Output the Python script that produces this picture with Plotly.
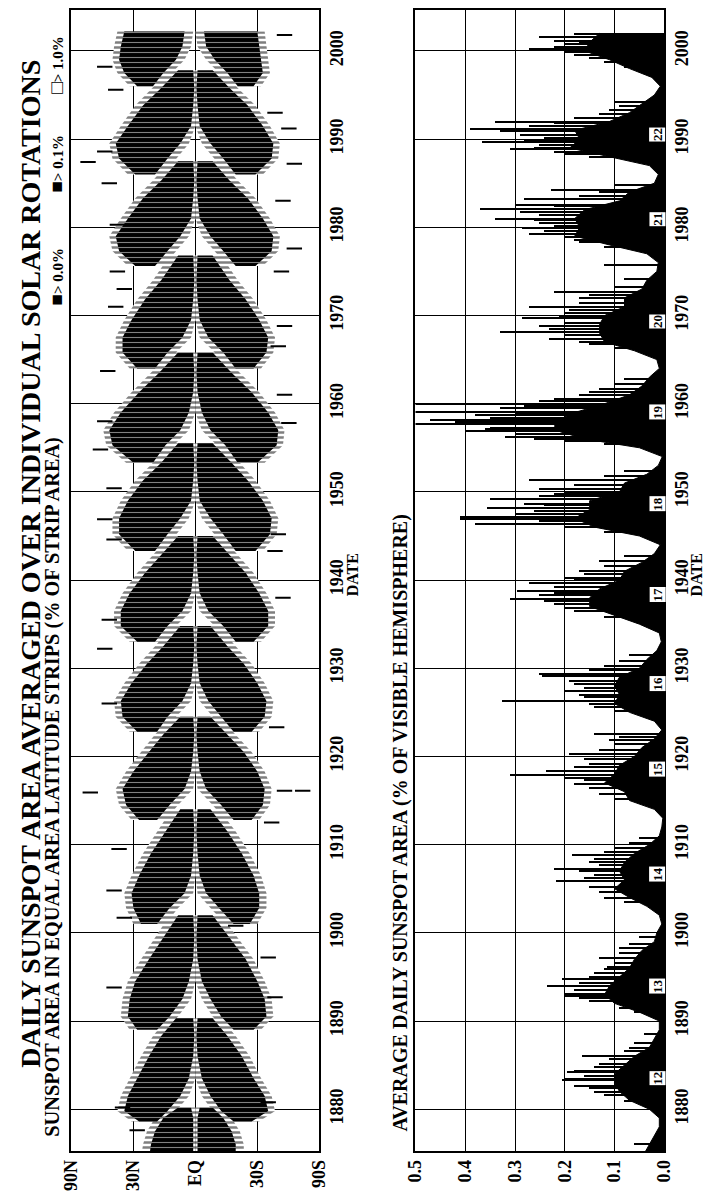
import numpy as np
import plotly.graph_objects as go

# page is rendered with an 8px body margin; figure coordinates = page px - 8
OFF = 8
W, H = 719 - OFF, 1195 - OFF

# ---------------- butterfly wings (latitude envelopes in degrees) ----------------
wing_cycle = ([11] * 5 + [12] * 7 + [13] * 7 + [14] * 7 + [15] * 7 + [16] * 7 + [17] * 7
              + [18] * 7 + [19] * 7 + [20] * 7 + [21] * 7 + [22] * 7 + [23] * 5)
wing_year = [
    1874.4, 1876.0, 1877.5, 1879.0, 1880.2,
    1878.6, 1879.8, 1881.5, 1883.5, 1886.0, 1888.3, 1890.3,
    1889.0, 1890.5, 1892.5, 1894.5, 1897.0, 1899.5, 1902.0,
    1901.0, 1902.8, 1904.5, 1906.5, 1909.0, 1911.5, 1914.0,
    1912.8, 1914.5, 1916.3, 1918.3, 1920.5, 1922.5, 1924.5,
    1922.8, 1924.5, 1926.3, 1928.3, 1930.5, 1932.5, 1934.8,
    1933.0, 1934.8, 1936.5, 1938.5, 1940.8, 1942.8, 1945.0,
    1943.3, 1945.2, 1947.0, 1949.0, 1951.3, 1953.3, 1955.5,
    1953.3, 1955.3, 1957.0, 1959.0, 1961.3, 1963.5, 1965.8,
    1964.0, 1965.8, 1967.5, 1969.5, 1971.8, 1974.0, 1976.8,
    1975.6, 1977.3, 1979.0, 1981.0, 1983.3, 1985.3, 1987.5,
    1986.0, 1987.8, 1989.5, 1991.5, 1993.8, 1995.8, 1997.8,
    1996.0, 1997.5, 1999.0, 2000.5, 2002.2,
]
north_outer = [
    22, 21, 19, 15, 8,
    27, 35, 33, 28, 22, 16, 9,
    28, 33, 32, 29, 22, 15, 8,
    26, 30, 31, 27, 21, 14, 7,
    27, 34, 36, 30, 22, 15, 7,
    28, 36, 37, 31, 23, 15, 7,
    28, 37, 37, 32, 24, 16, 8,
    29, 38, 38, 33, 25, 16, 8,
    30, 42, 44, 37, 27, 17, 8,
    28, 36, 36, 31, 24, 16, 8,
    29, 38, 40, 33, 25, 16, 8,
    29, 38, 40, 33, 25, 16, 8,
    28, 35, 38, 37, 35,
]
north_inner = [
    1, 1, 1, 1, 2,
    18, 13, 7, 3, 1, 0.5, 1,
    18, 12, 6, 3, 1, 0.5, 1,
    18, 12, 5, 2, 1, 0.5, 1,
    18, 12, 5, 2, 1, 0.5, 1,
    18, 13, 6, 2, 1, 0.5, 1,
    19, 13, 6, 2, 1, 0.5, 1,
    19, 13, 7, 2, 1, 0.5, 1,
    20, 14, 7, 3, 1, 0.5, 1,
    19, 13, 6, 2, 1, 0.5, 1,
    19, 13, 7, 2, 1, 0.5, 1,
    19, 13, 7, 2, 1, 0.5, 1,
    20, 15, 9, 6, 5,
]
south_outer = [
    19, 19, 17, 13, 8,
    27, 36, 34, 28, 22, 15, 8,
    28, 35, 34, 30, 24, 16, 8,
    26, 31, 31, 28, 22, 15, 7,
    27, 33, 34, 30, 23, 15, 7,
    27, 34, 35, 30, 23, 15, 7,
    28, 36, 36, 31, 24, 16, 8,
    29, 37, 38, 33, 25, 17, 8,
    30, 41, 42, 36, 27, 17, 8,
    28, 35, 36, 31, 24, 16, 8,
    29, 38, 39, 33, 25, 16, 8,
    29, 38, 39, 33, 25, 16, 8,
    28, 33, 32, 31, 30,
]
south_inner = [
    1, 1, 1, 1, 2,
    18, 12, 7, 3, 1, 0.5, 1,
    18, 12, 7, 3, 1, 0.5, 1,
    18, 11, 5, 2, 1, 0.5, 1,
    18, 12, 5, 2, 1, 0.5, 1,
    18, 12, 6, 2, 1, 0.5, 1,
    19, 13, 6, 2, 1, 0.5, 1,
    19, 13, 7, 2, 1, 0.5, 1,
    20, 14, 7, 3, 1, 0.5, 1,
    19, 13, 6, 2, 1, 0.5, 1,
    19, 13, 7, 2, 1, 0.5, 1,
    19, 13, 7, 2, 1, 0.5, 1,
    20, 15, 9, 5, 4,
]
# isolated sunspot marks outside the main wings (year, latitude; + north, - south)
stray_year = [2001.8, 1998.2, 1987.4, 1988.6, 1991.2, 1987.2, 1995.6, 1980.3, 1977.6, 1975.0,
              1973.0, 1975.0, 1968.8, 1963.7, 1957.8, 1958.0, 1950.4, 1945.2, 1946.9, 1943.3,
              1944.6, 1932.2, 1923.3, 1916.1, 1916.1, 1915.9, 1904.8, 1901.7, 1900.8, 1892.7,
              1893.8, 1897.2, 1877.6, 1880.2, 1880.8, 1985.0, 1966.5, 1954.8, 1935.5, 1912.5,
              1909.5, 1926.0, 1938.0, 1961.0, 1971.0, 1983.0, 1993.0]
stray_lat = [-46, 47, 60, 47, -49, -53, 40, 39, -53, -44,
             35, 39, -46, 45, -49, 47, 41, -42, 47, -40,
             41, 47, -41, -60, -46, 58, 41, 35, -19, -40,
             41, -36, 28, 36, -36, 44, -42, 50, 44, -38,
             38, 44, -45, -46, 40, -45, -40]

# ---------------- average daily sunspot area (% of visible hemisphere) ----------------
base_year = list(range(1875, 2003))
base_val = [
    0.04, 0.03, 0.02, 0.01, 0.01, 0.03, 0.07, 0.09, 0.10, 0.10,
    0.08, 0.06, 0.03, 0.02, 0.01, 0.01, 0.05, 0.10, 0.12, 0.11,
    0.09, 0.07, 0.06, 0.045, 0.02, 0.015, 0.005, 0.01, 0.035, 0.07,
    0.10, 0.08, 0.09, 0.08, 0.06, 0.03, 0.01, 0.005, 0.003, 0.02,
    0.07, 0.08, 0.12, 0.10, 0.09, 0.06, 0.045, 0.02, 0.005, 0.02,
    0.07, 0.10, 0.09, 0.10, 0.09, 0.05, 0.035, 0.015, 0.006, 0.01,
    0.05, 0.10, 0.15, 0.15, 0.13, 0.09, 0.08, 0.045, 0.02, 0.008,
    0.05, 0.14, 0.18, 0.15, 0.15, 0.09, 0.08, 0.035, 0.012, 0.004,
    0.05, 0.16, 0.22, 0.22, 0.18, 0.12, 0.07, 0.045, 0.03, 0.01,
    0.015, 0.06, 0.12, 0.13, 0.13, 0.12, 0.08, 0.08, 0.045, 0.035,
    0.015, 0.012, 0.035, 0.11, 0.18, 0.17, 0.18, 0.16, 0.09, 0.07,
    0.02, 0.012, 0.03, 0.11, 0.19, 0.17, 0.18, 0.11, 0.07, 0.045,
    0.02, 0.008, 0.025, 0.07, 0.11, 0.16, 0.15, 0.13,
]
spike_year = [
    1876.1, 1881.0, 1881.6, 1882.0, 1882.4, 1882.7, 1883.3, 1883.4, 1883.8, 1884.2, 1884.4, 1884.8,
    1885.2, 1885.7, 1886.1, 1886.6, 1887.0, 1887.5, 1888.5,
    1891.0, 1891.5, 1892.3, 1892.6, 1892.9, 1893.1, 1893.5, 1894.0, 1894.3, 1894.8, 1895.0,
    1895.5, 1895.9, 1896.1, 1896.6, 1897.2, 1897.7, 1898.3, 1898.8, 1899.5,
    1903.5, 1904.0, 1904.6, 1905.2, 1905.9, 1906.2, 1906.6, 1907.0, 1907.3, 1907.7, 1908.0,
    1908.4, 1908.8, 1909.2, 1909.6, 1910.2, 1910.8,
    1915.2, 1915.8, 1916.4, 1916.9, 1917.3, 1917.6, 1917.9, 1918.4, 1918.8, 1919.2, 1919.7,
    1920.3, 1920.8, 1921.4, 1921.9, 1922.2, 1922.6,
    1925.2, 1925.6, 1926.0, 1926.3, 1926.8, 1927.0, 1927.4, 1927.8, 1928.2, 1928.6, 1929.1,
    1929.4, 1929.8, 1930.3, 1930.8, 1931.5,
    1935.8, 1936.5, 1936.9, 1937.3, 1937.6, 1937.9, 1938.3, 1938.6, 1938.8, 1939.2, 1939.7,
    1940.0, 1940.3, 1940.7, 1941.0, 1941.6, 1942.2, 1942.8,
    1945.5, 1946.0, 1946.4, 1946.7, 1947.0, 1947.2, 1947.5, 1947.8, 1948.2, 1948.5, 1948.7,
    1949.2, 1949.5, 1949.8, 1950.0, 1950.3, 1950.8, 1951.4, 1951.8, 1952.4,
    1955.4, 1955.8, 1956.0, 1956.3, 1956.6, 1956.9, 1957.1, 1957.3, 1957.7, 1957.9, 1958.2,
    1958.4, 1958.7, 1958.9, 1959.1, 1959.5, 1959.8, 1960.0, 1960.3, 1960.6, 1961.0, 1961.4,
    1961.7, 1962.2, 1962.8,
    1966.3, 1966.8, 1967.0, 1967.4, 1967.8, 1968.2, 1968.5, 1968.8, 1969.2, 1969.7, 1969.9,
    1970.3, 1970.6, 1971.0, 1971.4, 1972.0, 1972.3, 1972.7, 1973.2, 1974.2, 1975.8,
    1977.8, 1978.4, 1978.6, 1978.9, 1979.3, 1979.6, 1979.9, 1980.2, 1980.5, 1980.8, 1981.0,
    1981.4, 1981.8, 1982.1, 1982.4, 1982.6, 1983.2, 1983.6, 1984.0, 1984.3, 1984.8,
    1988.0, 1988.3, 1988.6, 1988.9, 1989.0, 1989.3, 1989.7, 1989.9, 1990.2, 1990.5, 1990.9,
    1991.2, 1991.5, 1991.8, 1992.0, 1992.4, 1992.9, 1993.3, 1993.8, 1994.2,
    1998.2, 1998.8, 1999.2, 1999.6, 1999.9, 2000.2, 2000.5, 2000.8, 2001.0, 2001.2, 2001.6,
    2001.9,
]
spike_val = [
    0.06, 0.08, 0.12, 0.14, 0.15, 0.18, 0.205, 0.20, 0.16, 0.195, 0.18, 0.14,
    0.13, 0.11, 0.165, 0.08, 0.07, 0.06, 0.04,
    0.06, 0.09, 0.15, 0.17, 0.20, 0.20, 0.18, 0.235, 0.17, 0.205, 0.15,
    0.14, 0.12, 0.115, 0.10, 0.13, 0.09, 0.09, 0.07, 0.05,
    0.08, 0.12, 0.13, 0.15, 0.217, 0.16, 0.14, 0.17, 0.22, 0.13, 0.15,
    0.14, 0.185, 0.12, 0.10, 0.07, 0.05,
    0.10, 0.13, 0.15, 0.18, 0.16, 0.20, 0.31, 0.237, 0.18, 0.15, 0.16,
    0.19, 0.13, 0.10, 0.11, 0.09, 0.14,
    0.10, 0.14, 0.15, 0.325, 0.16, 0.17, 0.20, 0.16, 0.18, 0.19, 0.245,
    0.25, 0.15, 0.12, 0.09, 0.07,
    0.12, 0.18, 0.20, 0.22, 0.24, 0.31, 0.25, 0.22, 0.295, 0.22, 0.27,
    0.18, 0.20, 0.16, 0.17, 0.12, 0.13, 0.08,
    0.12, 0.20, 0.38, 0.25, 0.41, 0.41, 0.30, 0.26, 0.355, 0.24, 0.28,
    0.35, 0.25, 0.22, 0.20, 0.25, 0.18, 0.27, 0.12, 0.08,
    0.12, 0.20, 0.26, 0.32, 0.30, 0.40, 0.36, 0.35, 0.50, 0.42, 0.47,
    0.35, 0.38, 0.30, 0.50, 0.33, 0.28, 0.50, 0.25, 0.22, 0.17, 0.15,
    0.13, 0.10, 0.08,
    0.10, 0.15, 0.17, 0.23, 0.20, 0.33, 0.23, 0.25, 0.20, 0.285, 0.21,
    0.20, 0.19, 0.27, 0.17, 0.17, 0.15, 0.22, 0.10, 0.08, 0.12,
    0.12, 0.17, 0.18, 0.20, 0.27, 0.24, 0.285, 0.22, 0.25, 0.26, 0.34,
    0.25, 0.29, 0.37, 0.22, 0.30, 0.28, 0.17, 0.13, 0.227, 0.10,
    0.15, 0.20, 0.22, 0.31, 0.26, 0.25, 0.365, 0.28, 0.24, 0.29, 0.33,
    0.39, 0.27, 0.22, 0.34, 0.18, 0.13, 0.11, 0.09, 0.10,
    0.08, 0.12, 0.15, 0.18, 0.20, 0.27, 0.22, 0.20, 0.17, 0.22, 0.25,
    0.18,
]
cycle_label = ["12", "13", "14", "15", "16", "17", "18", "19", "20", "21", "22"]
cycle_label_year = [1883.5, 1894.0, 1906.7, 1918.6, 1928.3, 1938.4, 1948.7, 1959.1, 1969.3, 1980.9, 1990.5]

date_ticks = list(range(1880, 2001, 10))
lat_tick_deg = [90, 30, 0, -30, -90]
lat_tick_text = ["90N", "30N", "EQ", "30S", "90S"]
area_ticks = [0.5, 0.4, 0.3, 0.2, 0.1, 0.0]
area_tick_text = ["0.5", "0.4", "0.3", "0.2", "0.1", "0.0"]

# ---------------- figure ----------------
SERIF = "Liberation Serif"
fig = go.Figure()

HALO_DEG = 4.0  # ragged, sparser fringe drawn around each wing


def wing_polygon(idx, outer, inner, sgn, pad):
    yrs = [wing_year[i] for i in idx]
    o = [sgn * np.sin(np.radians(min(outer[i] + pad, 89))) for i in idx]
    n = [sgn * np.sin(np.radians(max(inner[i] - pad, 0))) for i in idx]
    return o + n[::-1] + [o[0]], yrs + yrs[::-1] + [yrs[0]]


for layer in ("halo", "core"):
    for c in sorted(set(wing_cycle)):
        idx = [i for i, v in enumerate(wing_cycle) if v == c]
        for outer, inner, sgn in ((north_outer, north_inner, 1), (south_outer, south_inner, -1)):
            if layer == "halo":
                xs, ys = wing_polygon(idx, outer, inner, sgn, HALO_DEG)
                patt = dict(shape="-", bgcolor="white", fgcolor="black", size=5, solidity=0.5)
                fc = "white"
            else:
                xs, ys = wing_polygon(idx, outer, inner, sgn, 0)
                patt = dict(shape="-", bgcolor="black", fgcolor="white", size=5, solidity=0.22)
                fc = "black"
            fig.add_trace(go.Scatter(
                x=xs, y=ys, mode="lines", fill="toself", fillcolor=fc,
                line=dict(width=0, color="black"), fillpattern=patt,
                showlegend=False, hoverinfo="skip", xaxis="x", yaxis="y"))

fig.add_trace(go.Scatter(
    x=[np.sin(np.radians(v)) for v in stray_lat], y=stray_year, mode="markers",
    marker=dict(symbol="line-ew", size=11, line=dict(color="black", width=2)),
    showlegend=False, hoverinfo="skip", xaxis="x", yaxis="y"))

fig.add_trace(go.Scatter(
    x=base_val, y=base_year, mode="lines", fill="tozerox", fillcolor="black",
    line=dict(color="black", width=1), showlegend=False, hoverinfo="skip",
    xaxis="x2", yaxis="y2"))
fig.add_trace(go.Bar(
    x=spike_val, y=spike_year, orientation="h", width=0.16,
    marker=dict(color="black", line=dict(width=0)), showlegend=False,
    hoverinfo="skip", xaxis="x2", yaxis="y2"))


def fx(p):  # page x px -> paper fraction
    return (p - OFF) / W


def fy(p):  # page y px -> paper fraction
    return 1 - (p - OFF) / H


ydom = [fy(1151), 1.0]
yrange = [1875.25, 2000 + (49 - OFF) / 8.833]
tickfont = dict(family=SERIF, size=18, color="black", weight="bold")
common = dict(showline=True, linecolor="black", linewidth=1.5, mirror=True,
              showgrid=True, gridcolor="black", gridwidth=1, zeroline=False,
              ticks="", tickangle=-90, tickfont=tickfont)

fig.update_layout(
    width=W, height=H, margin=dict(l=0, r=0, t=0, b=0),
    plot_bgcolor="white", paper_bgcolor="white",
    xaxis=dict(domain=[fx(63), fx(318)], range=[1, -1],
               tickvals=[np.sin(np.radians(d)) for d in lat_tick_deg],
               ticktext=lat_tick_text, anchor="y", **common),
    yaxis=dict(domain=ydom, range=yrange, tickvals=date_ticks,
               side="right", anchor="x", **common),
    xaxis2=dict(domain=[fx(417), fx(673)], range=[0.5, 0], tickvals=area_ticks,
                ticktext=area_tick_text, anchor="y2", **common),
    yaxis2=dict(domain=ydom, range=yrange, tickvals=date_ticks,
                side="right", anchor="x2", **common),
    bargap=0,
)


def ann(text, xpx, ypx, size, **kw):
    fig.add_annotation(text=text, x=fx(xpx), y=fy(ypx), xref="paper", yref="paper",
                       showarrow=False, textangle=-90,
                       font=dict(family=SERIF, size=size, color="black", weight="bold"),
                       xanchor="center", yanchor="middle", **kw)


ann("DAILY SUNSPOT AREA AVERAGED OVER INDIVIDUAL SOLAR ROTATIONS", 20, 563, 28)
ann("SUNSPOT AREA IN EQUAL AREA LATITUDE STRIPS (% OF STRIP AREA)", 44, 786, 20.3)
sq = "<span style='font-size:19px'>%s</span>"
ann((sq % "■") + "> 0.0%", 48, 275, 15)
ann((sq % "■") + "> 0.1%", 48, 162, 15)
ann((sq % "□") + "> 1.0%", 48, 63, 15)
ann("AVERAGE DAILY SUNSPOT AREA (% OF VISIBLE HEMISPHERE)", 402, 822, 20)
ann("DATE", 352, 574, 16)
ann("DATE", 706, 574, 16)

for lab, yr in zip(cycle_label, cycle_label_year):
    fig.add_annotation(text=lab, x=0.014, y=yr, xref="x2", yref="y2", showarrow=False,
                       textangle=-90, bgcolor="white", borderpad=0,
                       font=dict(family=SERIF, size=13, color="black", weight="bold"))

fig.write_html("out.html")
